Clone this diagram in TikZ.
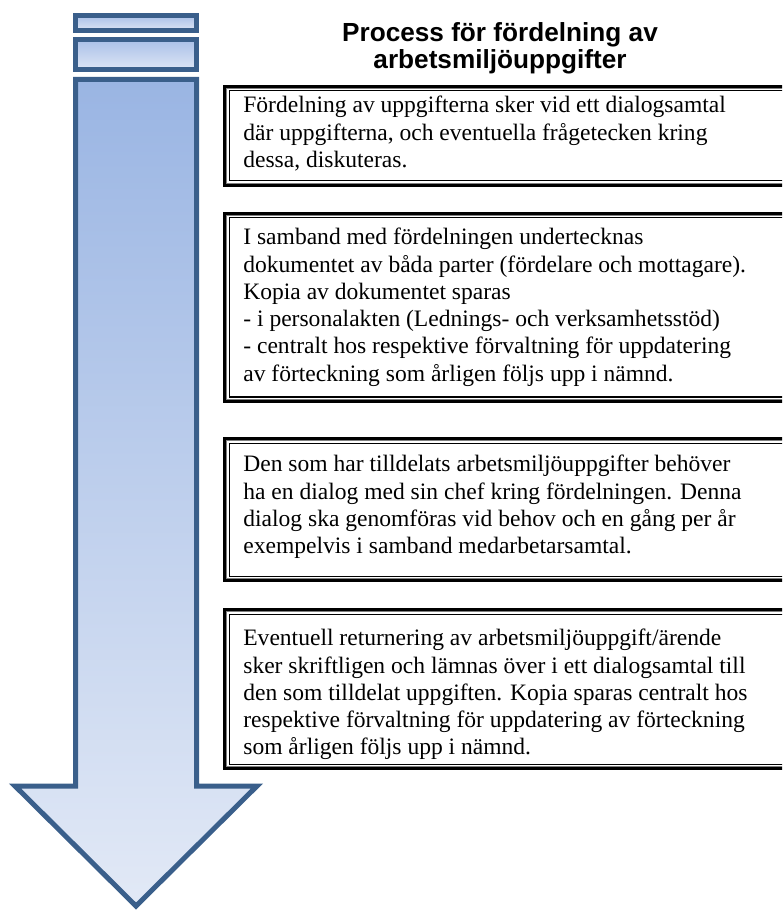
\documentclass[tikz,border=0pt]{standalone}
\usepackage{fontspec}
\setmainfont{Liberation Serif}
\newfontfamily\titlefont{Liberation Sans}
\definecolor{arrowline}{HTML}{3A5F8B}
\definecolor{arrowtop}{HTML}{9AB5E3}
\definecolor{arrowbottom}{HTML}{E2E9F6}
\definecolor{bartop}{HTML}{A9C0E8}
\definecolor{barbottom}{HTML}{DDE5F5}
\tikzset{
  arrowpart/.style={draw=arrowline, line width=0.1cm, line join=miter},
  bodytext/.style={anchor=north west, inner sep=0pt, align=left,
    font=\fontsize{13.4}{15.5}\selectfont},
  headtext/.style={align=center, inner sep=0pt,
    font=\titlefont\bfseries\fontsize{14.9}{15.4}\selectfont},
}
\begin{document}
\begin{tikzpicture}[x=0.02cm, y=-0.02cm]
  \useasboundingbox (0,0) rectangle (782,911);
  \clip (0,0) rectangle (782,911);
  %draw bars above the arrow
  \foreach \t/\b in {15.5/30.5, 39.5/69.5}{
    \path[arrowpart, top color=bartop, bottom color=barbottom] (75.5,\t) rectangle (196.5,\b);
  }
  %draw the big arrow
  \path[arrowpart, top color=arrowtop, bottom color=arrowbottom]
    (75.5,79.5) -- (196.5,79.5) -- (196.5,786) -- (257,786) -- (136,906)
    -- (15,786) -- (75.5,786) -- cycle;
  %draw framed boxes
  \foreach \t/\b in {85/187, 212/403, 437/582, 608/770}{
    \draw[line width=1.7pt] (224.5,\t+1.5) rectangle (800,\b-1.5);
    \draw[gray, line width=0.5pt] (226.7,\t+3.7) rectangle (800,\b-3.7);
    \draw[line width=0.57pt] (229,\t+6) rectangle (800,\b-6);
  }
  %title
  \node[headtext] (title) at (500,48) {Process för fördelning av\\arbetsmiljöuppgifter};
  %texts in the boxes
  \node[bodytext] (step1) at (243,96) {Fördelning av uppgifterna sker vid ett dialogsamtal\\
    där uppgifterna, och eventuella frågetecken kring\\
    dessa, diskuteras.};
  \node[bodytext] (step2) at (243,228) {I samband med fördelningen undertecknas\\
    dokumentet av båda parter (fördelare och mottagare).\\
    Kopia av dokumentet sparas\\
    - i personalakten (Lednings- och verksamhetsstöd)\\
    - centralt hos respektive förvaltning för uppdatering\\
    av förteckning som årligen följs upp i nämnd.};
  \node[bodytext] (step3) at (243,455) {Den som har tilldelats arbetsmiljöuppgifter behöver\\
    ha en dialog med sin chef kring fördelningen. Denna\\
    dialog ska genomföras vid behov och en gång per år\\
    exempelvis i samband medarbetarsamtal.};
  \node[bodytext] (step4) at (243,629) {Eventuell returnering av arbetsmiljöuppgift/ärende\\
    sker skriftligen och lämnas över i ett dialogsamtal till\\
    den som tilldelat uppgiften. Kopia sparas centralt hos\\
    respektive förvaltning för uppdatering av förteckning\\
    som årligen följs upp i nämnd.};
\end{tikzpicture}
\end{document}
